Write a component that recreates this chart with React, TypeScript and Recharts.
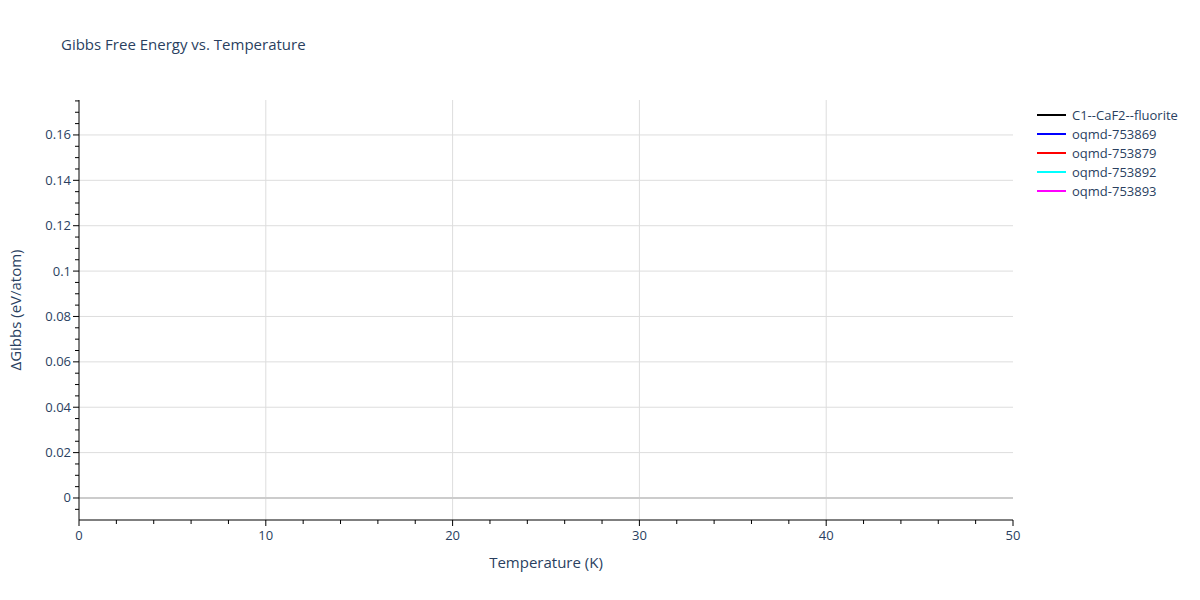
import { Line, LineChart, ReferenceLine, XAxis, YAxis } from "recharts";

// series shown in the legend; no points fall inside the plotted window
const seriesNames = ["C1--CaF2--fluorite", "oqmd-753869", "oqmd-753879", "oqmd-753892", "oqmd-753893"];
const seriesColors = ["#000000", "#0000ff", "#ff0000", "#00ffff", "#ff00ff"];
const seriesValues: { temperature: number; gibbs: number }[][] = [[], [], [], [], []];

const xMajor = [0, 10, 20, 30, 40, 50];
const xMinor = [2, 4, 6, 8, 12, 14, 16, 18, 22, 24, 26, 28, 32, 34, 36, 38, 42, 44, 46, 48];
const yMajor = [0, 0.02, 0.04, 0.06, 0.08, 0.1, 0.12, 0.14, 0.16];
const yMinor = [
  -0.005, 0.005, 0.01, 0.015, 0.025, 0.03, 0.035, 0.045, 0.05, 0.055, 0.065, 0.07, 0.075, 0.085, 0.09,
  0.095, 0.105, 0.11, 0.115, 0.125, 0.13, 0.135, 0.145, 0.15, 0.155, 0.165, 0.17, 0.175,
];

const FONT = '"Open Sans", "Noto Sans", sans-serif';
const TEXT = "#2a3f5f";

const isMajor = (list: number[], v: number) => list.some((m) => Math.abs(m - v) < 1e-9);

function XTick(props: any) {
  const { x, y, payload } = props;
  const major = isMajor(xMajor, payload.value);
  return (
    <g>
      <line x1={x} x2={x} y1={y} y2={y + (major ? 6 : 4)} stroke="#000" strokeWidth={1} />
      {major && (
        <text x={x} y={y + 20} textAnchor="middle" fontSize={13} fill={TEXT} fontFamily={FONT}>
          {payload.value}
        </text>
      )}
    </g>
  );
}

function YTick(props: any) {
  const { x, y, payload } = props;
  const major = isMajor(yMajor, payload.value);
  return (
    <g>
      <line x1={x - (major ? 6 : 4)} x2={x} y1={y} y2={y} stroke="#000" strokeWidth={1} />
      {major && (
        <text x={x - 8} y={y + 4.5} textAnchor="end" fontSize={13} fill={TEXT} fontFamily={FONT}>
          {payload.value}
        </text>
      )}
    </g>
  );
}

export default function App() {
  return (
    <div style={{ position: "absolute", left: 0, top: 0, width: 1200, height: 600, background: "#fff" }}>
      <LineChart width={1200} height={600} margin={{ top: 100, right: 187, bottom: 20, left: 19 }}>
        <text x={61} y={50} fontSize={15} fill={TEXT} fontFamily={FONT}>
          Gibbs Free Energy vs. Temperature
        </text>
        {xMajor.slice(1, -1).map((v) => (
          <ReferenceLine key={"x" + v} x={v} stroke="#dddddd" strokeWidth={1} />
        ))}
        {yMajor.slice(1).map((v) => (
          <ReferenceLine key={"y" + v} y={v} stroke="#dddddd" strokeWidth={1} />
        ))}
        <ReferenceLine y={0} stroke="#cccccc" strokeWidth={2} />
        <XAxis
          type="number"
          dataKey="temperature"
          domain={[0, 50]}
          ticks={[...xMajor, ...xMinor].sort((a, b) => a - b)}
          allowDataOverflow
          height={60}
          stroke="#000"
          tickLine={false}
          tickSize={0}
          tickMargin={0}
          tick={<XTick />}
          interval={0}
          label={{ value: "Temperature (K)", position: "insideBottom", offset: 12, fill: TEXT, fontSize: 15, fontFamily: FONT }}
        />
        <YAxis
          type="number"
          dataKey="gibbs"
          domain={[-0.0097, 0.1754]}
          ticks={[...yMajor, ...yMinor].sort((a, b) => a - b)}
          allowDataOverflow
          width={60}
          stroke="#000"
          tickLine={false}
          tickSize={0}
          tickMargin={0}
          tick={<YTick />}
          interval={0}
          label={{
            value: "ΔGibbs (eV/atom)",
            angle: -90,
            position: "insideLeft",
            offset: -3,
            fill: TEXT,
            fontSize: 15,
            fontFamily: FONT,
            style: { textAnchor: "middle" },
          }}
        />
        {seriesNames.map((name, i) => (
          <Line
            key={name}
            data={seriesValues[i]}
            dataKey="gibbs"
            name={name}
            stroke={seriesColors[i]}
            strokeWidth={2}
            dot={false}
            isAnimationActive={false}
          />
        ))}
      </LineChart>
      <div style={{ position: "absolute", left: 1037, top: 105, fontFamily: FONT, fontSize: 13, color: TEXT }}>
        {seriesNames.map((name, i) => (
          <div key={name} style={{ display: "flex", alignItems: "center", height: 19 }}>
            <span style={{ width: 29, height: 2, background: seriesColors[i], marginRight: 6 }} />
            {name}
          </div>
        ))}
      </div>
    </div>
  );
}
